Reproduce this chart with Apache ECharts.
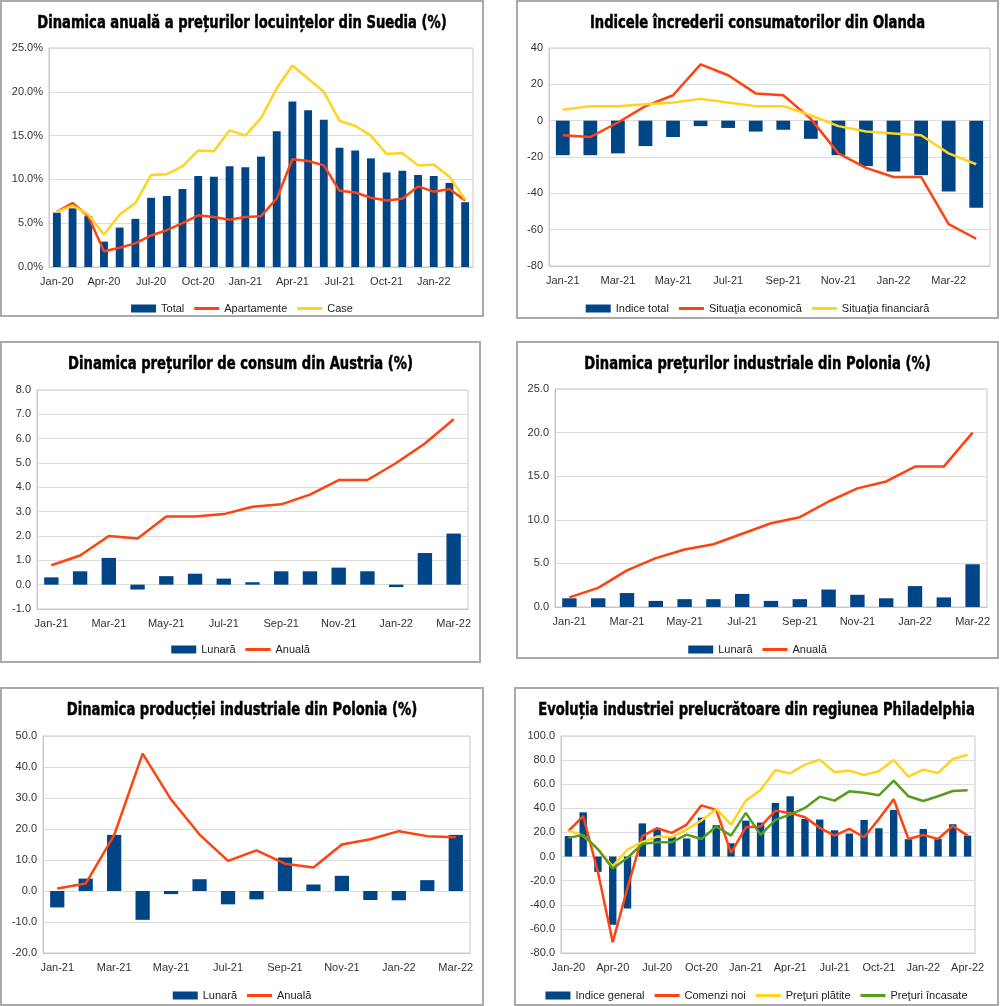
<!DOCTYPE html>
<html><head><meta charset="utf-8">
<script src="https://cdn.jsdelivr.net/npm/echarts@6/dist/echarts.min.js"></script>
<style>
body{margin:0;background:#fff;width:1000px;height:1006px;position:relative;overflow:hidden}
.p{position:absolute;box-sizing:border-box;border:2px solid #aaa;background:#fff}
</style></head><body>
<div id="c1" class="p" style="left:0;top:0;width:484px;height:317px"></div>
<div id="c2" class="p" style="left:516px;top:0;width:483px;height:319px"></div>
<div id="c3" class="p" style="left:0;top:341px;width:481px;height:322px"></div>
<div id="c4" class="p" style="left:516px;top:341px;width:483px;height:318px"></div>
<div id="c5" class="p" style="left:0;top:687px;width:484px;height:319px"></div>
<div id="c6" class="p" style="left:514px;top:687px;width:485px;height:319px"></div>
<script>
// ---------- DATA ----------
const monthsSE = ['Jan-20','Feb-20','Mar-20','Apr-20','May-20','Jun-20','Jul-20','Aug-20','Sep-20','Oct-20','Nov-20','Dec-20','Jan-21','Feb-21','Mar-21','Apr-21','May-21','Jun-21','Jul-21','Aug-21','Sep-21','Oct-21','Nov-21','Dec-21','Jan-22','Feb-22','Mar-22'];
const seTotal = [6.2,6.7,5.8,2.9,4.5,5.5,7.9,8.1,8.9,10.4,10.3,11.5,11.4,12.6,15.5,18.9,17.9,16.8,13.6,13.3,12.4,10.8,11.0,10.5,10.4,9.6,7.4];
const seApart = [6.3,7.3,5.8,1.8,2.2,2.7,3.6,4.2,5.0,5.9,5.7,5.4,5.7,5.8,7.8,12.3,12.1,11.6,8.7,8.5,7.9,7.6,7.8,9.2,8.6,8.9,7.6];
const seCase  = [6.3,7.0,6.0,3.7,6.0,7.3,10.5,10.6,11.5,13.3,13.2,15.6,15.0,17.0,20.4,23.0,21.5,20.0,16.7,16.1,15.0,12.9,13.0,11.6,11.7,10.3,7.7];

const monthsNL = ['Jan-21','Feb-21','Mar-21','Apr-21','May-21','Jun-21','Jul-21','Aug-21','Sep-21','Oct-21','Nov-21','Dec-21','Jan-22','Feb-22','Mar-22','Apr-22'];
const nlTotal = [-19,-19,-18,-14,-9,-3,-4,-6,-5,-10,-19,-25,-28,-30,-39,-48];
const nlEcon  = [-8,-9,-1,8,14,31,25,15,14,1,-18,-26,-31,-31,-57,-65];
const nlFin   = [6,8,8,9,10,12,10,8,8,3,-3,-6,-7,-8,-18,-24];

const months15 = ['Jan-21','Feb-21','Mar-21','Apr-21','May-21','Jun-21','Jul-21','Aug-21','Sep-21','Oct-21','Nov-21','Dec-21','Jan-22','Feb-22','Mar-22'];
const atLunara = [0.3,0.55,1.1,-0.2,0.35,0.45,0.25,0.1,0.55,0.55,0.7,0.55,-0.1,1.3,2.1];
const atAnuala = [0.8,1.2,2.0,1.9,2.8,2.8,2.9,3.2,3.3,3.7,4.3,4.3,5.0,5.8,6.8];

const plPpiLunara = [1.0,1.0,1.6,0.7,0.9,0.9,1.5,0.7,0.9,2.0,1.4,1.0,2.4,1.1,4.9];
const plPpiAnuala = [1.1,2.2,4.2,5.6,6.6,7.2,8.4,9.6,10.3,12.1,13.6,14.4,16.1,16.1,20.0];

const plIpLunara = [-5.3,4.0,18.1,-9.3,-1.0,3.8,-4.3,-2.7,10.8,2.1,4.9,-2.9,-3.0,3.5,18.1];
const plIpAnuala = [0.8,2.4,18.0,44.3,29.5,18.2,9.7,13.1,8.8,7.6,15.0,16.7,19.3,17.7,17.3];

const monthsPH = ['Jan-20','Feb-20','Mar-20','Apr-20','May-20','Jun-20','Jul-20','Aug-20','Sep-20','Oct-20','Nov-20','Dec-20','Jan-21','Feb-21','Mar-21','Apr-21','May-21','Jun-21','Jul-21','Aug-21','Sep-21','Oct-21','Nov-21','Dec-21','Jan-22','Feb-22','Mar-22','Apr-22'];
const phGeneral = [17.0,36.7,-12.7,-56.6,-43.1,27.5,23.0,17.0,15.0,32.3,26.0,11.0,29.8,28.2,44.5,50.0,31.2,30.7,21.8,19.1,30.4,23.5,38.7,14.4,22.9,14.6,26.8,17.4];
const phComenzi = [21.0,33.5,-13.0,-71.0,-26.0,17.0,23.5,19.6,26.5,42.5,38.7,3.0,24.3,24.9,38.1,36.2,32.6,23.8,17.4,22.9,16.0,31.2,47.5,14.6,18.0,14.6,25.4,17.4];
const phPlatite = [21.5,17.4,6.0,-8.0,6.0,11.9,16.6,16.0,22.4,30.0,39.5,26.5,46.4,55.2,71.8,69.0,76.2,80.4,69.9,71.3,67.7,70.7,80.1,66.3,72.1,69.3,80.9,84.5];
const phIncasate = [15.5,18.0,6.0,-10.0,-1.0,10.5,11.9,11.9,18.2,14.6,24.9,17.4,36.2,18.0,30.4,34.8,40.3,49.7,46.4,54.1,53.0,50.8,63.0,50.0,46.1,50.0,54.4,55.0];

// ---------- STYLE ----------
const BLUE='#004586', RED='#ff420e', YEL='#ffd320', GRN='#579d1c';
const TF='"DejaVu Sans Condensed","Liberation Sans",sans-serif';
const LF='"Liberation Sans",Arial,sans-serif';
const LINE_ICON='path://M0,0L0,0ZM0,2.6L25,2.6L25,5.4L0,5.4ZM0,8L0,8Z';

function panel(id, cfg){
  const el = document.getElementById(id);
  const ch = echarts.init(el, null, {renderer:'canvas'});
  const w = el.clientWidth;
  const series = cfg.series.map(s => s.type==='bar'
    ? {name:s.name,type:'bar',data:s.data,itemStyle:{color:s.color},barCategoryGap:'50%',z:1,animation:false}
    : {name:s.name,type:'line',data:s.data,symbol:'none',showSymbol:false,lineStyle:{color:s.color,width:2.5},itemStyle:{color:s.color},z:3,animation:false});
  ch.setOption({
    animation:false,
    graphic:[{type:'text',x:w/2,y:21,scaleX:0.835,scaleY:1,z:10,
      style:{text:cfg.title,textAlign:'center',textVerticalAlign:'middle',align:'center',verticalAlign:'middle',
        font:'bold 17.5px '+TF,fill:'#000',stroke:'#000',lineWidth:0.5}}],
    legend:{left:'center',top:301,padding:0,itemGap:10,itemWidth:25,itemHeight:8,
      textStyle:{fontFamily:LF,fontSize:11,color:'#222'},
      data:cfg.series.map(s=>({name:s.name,icon:s.type==='bar'?'rect':LINE_ICON}))},
    grid:Object.assign({show:true,borderColor:'#c8c8c8',borderWidth:1,containLabel:false},cfg.grid),
    xAxis:{type:'category',data:cfg.cats,boundaryGap:true,
      axisLine:{onZero:false,lineStyle:{color:'#c8c8c8'}},axisTick:{show:false},
      axisLabel:{interval:cfg.xInt,fontFamily:LF,fontSize:11,color:'#333',margin:9}},
    yAxis:{type:'value',min:cfg.min,max:cfg.max,interval:cfg.step,
      axisLine:{show:true,lineStyle:{color:'#c8c8c8'}},axisTick:{show:false},
      splitLine:{lineStyle:{color:'#dcdcdc'}},
      axisLabel:{fontFamily:LF,fontSize:11,color:'#333',margin:6,formatter:cfg.fmt}},
    series:series
  });
}

panel('c1',{title:'Dinamica anuală a prețurilor locuințelor din Suedia (%)',cats:monthsSE,xInt:2,
  grid:{left:47,top:46,width:424,height:219},min:0,max:25,step:5,fmt:v=>v.toFixed(1)+'%',
  series:[{name:'Total',type:'bar',data:seTotal,color:BLUE},{name:'Apartamente',type:'line',data:seApart,color:RED},{name:'Case',type:'line',data:seCase,color:YEL}]});

panel('c2',{title:'Indicele încrederii consumatorilor din Olanda',cats:monthsNL,xInt:1,
  grid:{left:31,top:46,width:441,height:218},min:-80,max:40,step:20,fmt:v=>String(v),
  series:[{name:'Indice total',type:'bar',data:nlTotal,color:BLUE},{name:'Situaţia economică',type:'line',data:nlEcon,color:RED},{name:'Situaţia financiară',type:'line',data:nlFin,color:YEL}]});

panel('c3',{title:'Dinamica prețurilor de consum din Austria (%)',cats:months15,xInt:1,
  grid:{left:35,top:47,width:431,height:219},min:-1,max:8,step:1,fmt:v=>v.toFixed(1),
  series:[{name:'Lunară',type:'bar',data:atLunara,color:BLUE},{name:'Anuală',type:'line',data:atAnuala,color:RED}]});

panel('c4',{title:'Dinamica prețurilor industriale din Polonia (%)',cats:months15,xInt:1,
  grid:{left:37,top:46,width:432,height:218},min:0,max:25,step:5,fmt:v=>v.toFixed(1),
  series:[{name:'Lunară',type:'bar',data:plPpiLunara,color:BLUE},{name:'Anuală',type:'line',data:plPpiAnuala,color:RED}]});

panel('c5',{title:'Dinamica producției industriale din Polonia (%)',cats:months15,xInt:1,
  grid:{left:41,top:47,width:427,height:217},min:-20,max:50,step:10,fmt:v=>v.toFixed(1),
  series:[{name:'Lunară',type:'bar',data:plIpLunara,color:BLUE},{name:'Anuală',type:'line',data:plIpAnuala,color:RED}]});

panel('c6',{title:'Evoluția industriei prelucrătoare din regiunea Philadelphia',cats:monthsPH,xInt:2,
  grid:{left:45,top:47,width:414,height:217},min:-80,max:100,step:20,fmt:v=>v.toFixed(1),
  series:[{name:'Indice general',type:'bar',data:phGeneral,color:BLUE},{name:'Comenzi noi',type:'line',data:phComenzi,color:RED},{name:'Preţuri plătite',type:'line',data:phPlatite,color:YEL},{name:'Preţuri încasate',type:'line',data:phIncasate,color:GRN}]});
</script>
</body></html>
